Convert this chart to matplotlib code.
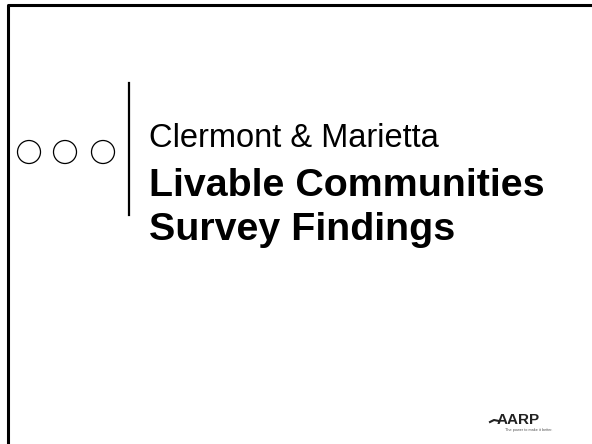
import matplotlib.pyplot as plt
from matplotlib.patches import Circle

plt.rcParams['font.family'] = ['Liberation Sans', 'DejaVu Sans']

subtitle = 'Clermont & Marietta'
title_lines = ['Livable Communities', 'Survey Findings']
circle_x = [29, 65, 103]
logo_text = 'AARP'
tagline = 'The power to make it better.'

fig = plt.figure(figsize=(5.92, 4.44), dpi=100)
ax = fig.add_axes([0, 0, 1, 1])
ax.set_xlim(0, 592)
ax.set_ylim(444, 0)
ax.axis('off')

# slide frame (left and top edges only)
ax.plot([8, 8, 592], [444, 5, 5], color='black', lw=2.2, solid_capstyle='butt')

# divider
ax.plot([129, 129], [83, 215], color='black', lw=1.6)

for cx in circle_x:
    ax.add_patch(Circle((cx, 152), 11.5, fill=False, ec='black', lw=0.9))

ax.text(149, 147, subtitle, fontsize=23.5, va='baseline', ha='left')
ax.text(149, 196, title_lines[0], fontsize=28.4, fontweight='bold', va='baseline', ha='left')
ax.text(149, 240, title_lines[1], fontsize=28.4, fontweight='bold', va='baseline', ha='left')

# logo
ax.plot([490, 494, 499], [422, 420, 421], color='#222222', lw=1.5)
ax.text(497, 424, logo_text, fontsize=11, fontweight='bold', color='#222222',
        va='baseline', ha='left')
ax.text(505, 431, tagline, fontsize=2.8, color='#555555', va='baseline', ha='left')

fig.savefig('out.png', dpi=100)
